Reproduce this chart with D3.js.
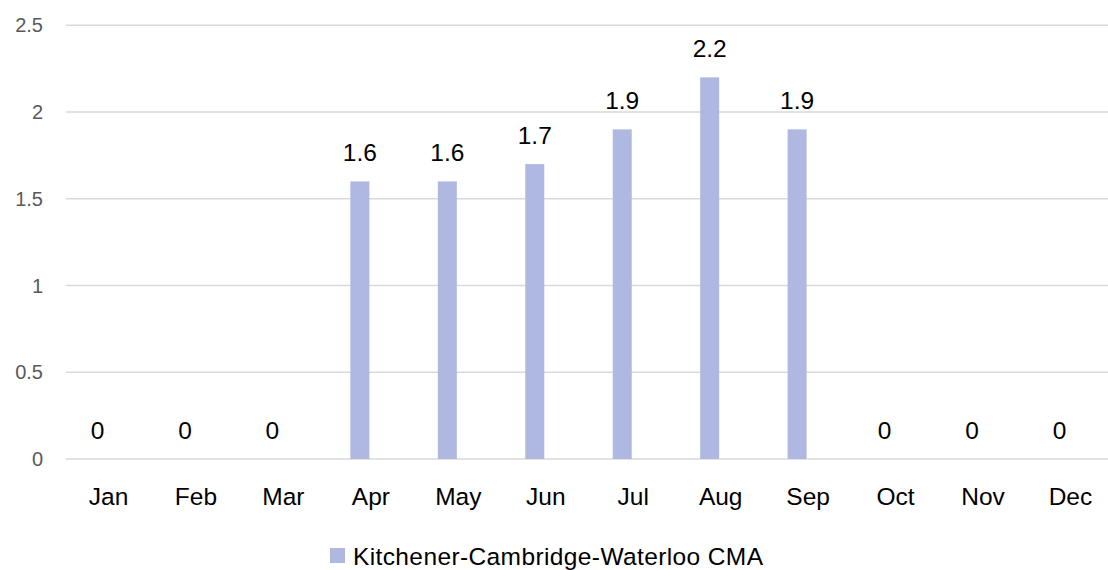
<!DOCTYPE html>
<html><head><meta charset="utf-8">
<script src="https://cdn.jsdelivr.net/npm/d3@7"></script>
<style>body{margin:0;background:#fff}svg{display:block}</style>
</head><body>
<svg id="c" width="1108" height="570"></svg>
<script>
const categories = ["Jan","Feb","Mar","Apr","May","Jun","Jul","Aug","Sep","Oct","Nov","Dec"];
const values = [0,0,0,1.6,1.6,1.7,1.9,2.2,1.9,0,0,0];
const yTicks = [0,0.5,1,1.5,2,2.5];
const seriesName = "Kitchener-Cambridge-Waterloo CMA";

const svg = d3.select("#c");
const font = "'Liberation Sans', Arial, sans-serif";
const barColor = "#aeb8e0";

const x = d3.scaleBand().domain(categories).range([53.8, 1103.2]).padding(0);
const y = d3.scaleLinear().domain([0, 2.5]).range([459, 25.3]);

// gridlines
svg.append("g").selectAll("line").data(yTicks).join("line")
  .attr("x1", 66).attr("x2", 1108)
  .attr("y1", d => y(d)).attr("y2", d => y(d))
  .attr("stroke", "#d9d9d9").attr("stroke-width", 1.5);

// y tick labels
svg.append("g").selectAll("text").data(yTicks).join("text")
  .attr("x", 43).attr("y", d => y(d) + 7)
  .attr("text-anchor", "end")
  .attr("font-family", font).attr("font-size", 20).attr("fill", "#595959")
  .text(d => d);

// bars
const bw = 19;
svg.append("g").selectAll("rect").data(values).join("rect")
  .attr("x", (d, i) => x(categories[i]) + x.bandwidth() / 2 - bw / 2)
  .attr("width", bw)
  .attr("y", d => y(d))
  .attr("height", d => y(0) - y(d))
  .attr("fill", barColor);

// value labels
svg.append("g").selectAll("text").data(values).join("text")
  .attr("x", (d, i) => x(categories[i]) + x.bandwidth() / 2)
  .attr("y", d => y(d) - 20)
  .attr("text-anchor", "middle")
  .attr("font-family", font).attr("font-size", 24.5).attr("fill", "#000")
  .text(d => d);

// category labels
svg.append("g").selectAll("text").data(categories).join("text")
  .attr("x", d => x(d) + x.bandwidth() / 2 + 11)
  .attr("y", 505)
  .attr("text-anchor", "middle")
  .attr("font-family", font).attr("font-size", 24.5).attr("fill", "#000")
  .text(d => d);

// legend
svg.append("rect").attr("x", 330).attr("y", 548).attr("width", 15).attr("height", 15).attr("fill", barColor);
svg.append("text").attr("x", 353).attr("y", 565)
  .attr("font-family", font).attr("font-size", 24.5).attr("fill", "#000")
  .attr("textLength", 410).attr("lengthAdjust", "spacing")
  .text(seriesName);
</script>
</body></html>
